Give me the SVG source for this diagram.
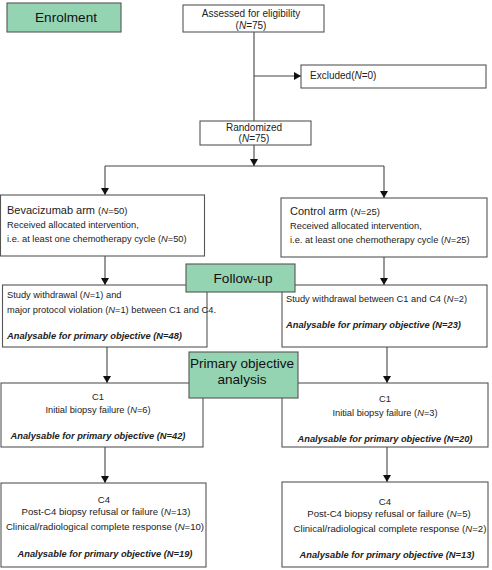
<svg xmlns="http://www.w3.org/2000/svg" width="492" height="570" viewBox="0 0 492 570">
<defs>
<style>
.box{fill:#fff;stroke:#555;stroke-width:1.1}
.grn{fill:#95d4b3;stroke:#555;stroke-width:1.1}
.ln{fill:none;stroke:#444;stroke-width:1.1}
text{font-family:"Liberation Sans",Arial,sans-serif;fill:#222}
.t{font-size:9.3px}
.h{font-size:11px}
.n{font-size:9.5px}
.top{font-size:10px}
.c4{font-size:9.6px}
.g{font-size:13.6px;fill:#111}
.b{font-size:9.3px;font-weight:bold;font-style:italic}
.m{text-anchor:middle}
</style>
<marker id="ah" markerUnits="userSpaceOnUse" markerWidth="8" markerHeight="8" refX="7" refY="4" orient="auto">
<path d="M0,0 L7,4 L0,8 z" fill="#111"/>
</marker>
</defs>
<rect width="492" height="570" fill="#fff"/>

<g id="connectors">
<line class="ln" x1="254" y1="32" x2="254" y2="121"/>
<line class="ln" x1="254" y1="76" x2="301" y2="76" marker-end="url(#ah)"/>
<line class="ln" x1="254" y1="145" x2="254" y2="166" marker-end="url(#ah)"/>
<line class="ln" x1="105" y1="166" x2="384" y2="166"/>
<line class="ln" x1="105" y1="166" x2="105" y2="195" marker-end="url(#ah)"/>
<line class="ln" x1="384" y1="166" x2="384" y2="198" marker-end="url(#ah)"/>
<line class="ln" x1="105" y1="256" x2="105" y2="285" marker-end="url(#ah)"/>
<line class="ln" x1="384" y1="257" x2="384" y2="285" marker-end="url(#ah)"/>
<line class="ln" x1="107" y1="347" x2="107" y2="383" marker-end="url(#ah)"/>
<line class="ln" x1="387" y1="347" x2="387" y2="383" marker-end="url(#ah)"/>
<line class="ln" x1="105" y1="447" x2="105" y2="483" marker-end="url(#ah)"/>
<line class="ln" x1="387" y1="447" x2="387" y2="482" marker-end="url(#ah)"/>
</g>

<g id="enrolment">
<rect class="grn" x="7" y="3" width="114" height="29"/>
<text class="g m" x="66" y="22">Enrolment</text>
</g>

<g id="assessed">
<rect class="box" x="183" y="5" width="141" height="27"/>
<text class="top m" x="251" y="17">Assessed for eligibility</text>
<text class="top m" x="251" y="29">(<tspan font-style="italic">N</tspan>=75)</text>
</g>

<g id="excluded">
<rect class="box" x="301" y="65" width="185" height="23"/>
<text class="top" x="310" y="79">Excluded(<tspan font-style="italic">N</tspan>=0)</text>
</g>

<g id="randomized">
<rect class="box" x="200" y="121" width="111" height="24"/>
<text class="top m" x="254" y="131">Randomized</text>
<text class="top m" x="254" y="142">(<tspan font-style="italic">N</tspan>=75)</text>
</g>

<g id="bevacizumab">
<rect class="box" x="0.5" y="195" width="204" height="61"/>
<text class="h" x="7" y="214">Bevacizumab arm <tspan class="n">(<tspan font-style="italic">N</tspan>=50)</tspan></text>
<text class="t" x="7" y="228">Received allocated intervention,</text>
<text class="t" x="7" y="242">i.e. at least one chemotherapy cycle (<tspan font-style="italic">N</tspan>=50)</text>
</g>

<g id="control">
<rect class="box" x="281" y="198" width="206" height="59"/>
<text class="h" x="290" y="215">Control arm <tspan class="n">(<tspan font-style="italic">N</tspan>=25)</tspan></text>
<text class="t" x="290" y="229">Received allocated intervention,</text>
<text class="t" x="290" y="243">i.e. at least one chemotherapy cycle (<tspan font-style="italic">N</tspan>=25)</text>
</g>

<g id="followup-left">
<rect class="box" x="2.5" y="285" width="204.5" height="62"/>
<text class="t" x="7" y="298">Study withdrawal (<tspan font-style="italic">N</tspan>=1) and</text>
<text class="t" x="7" y="313">major protocol violation (<tspan font-style="italic">N</tspan>=1) between C1 and C4.</text>
<text class="b" x="7" y="339">Analysable for primary objective (N=48)</text>
</g>

<g id="followup-right">
<rect class="box" x="282" y="285" width="205" height="62"/>
<text class="t" x="286" y="302">Study withdrawal between C1 and C4 (<tspan font-style="italic">N</tspan>=2)</text>
<text class="b" x="286" y="328">Analysable for primary objective (N=23)</text>
</g>

<g id="followup">
<rect class="grn" x="186" y="264" width="109" height="28"/>
<text class="g m" x="243" y="283">Follow-up</text>
</g>

<g id="c1-left">
<rect class="box" x="1" y="383" width="202" height="64"/>
<text class="t m" x="98" y="400">C1</text>
<text class="t m" x="98" y="413">Initial biopsy failure (<tspan font-style="italic">N</tspan>=6)</text>
<text class="b m" x="98" y="439">Analysable for primary objective (N=42)</text>
</g>

<g id="c1-right">
<rect class="box" x="282" y="383" width="206" height="64"/>
<text class="t m" x="385" y="402">C1</text>
<text class="t m" x="385" y="416">Initial biopsy failure (<tspan font-style="italic">N</tspan>=3)</text>
<text class="b m" x="385" y="442">Analysable for primary objective (N=20)</text>
</g>

<g id="primary">
<rect class="grn" x="189" y="352" width="109" height="46"/>
<text class="g m" x="242" y="368">Primary objective</text>
<text class="g m" x="242" y="384">analysis</text>
</g>

<g id="c4-left">
<rect class="box" x="1" y="483" width="205" height="84"/>
<text class="c4 m" x="104" y="503">C4</text>
<text class="c4 m" x="106" y="515">Post-C4 biopsy refusal or failure (<tspan font-style="italic">N</tspan>=13)</text>
<text class="c4 m" x="105" y="530">Clinical/radiological complete response (<tspan font-style="italic">N</tspan>=10)</text>
<text class="b m" x="105" y="557">Analysable for primary objective (N=19)</text>
</g>

<g id="c4-right">
<rect class="box" x="282" y="482" width="206" height="85"/>
<text class="c4 m" x="385" y="505">C4</text>
<text class="c4 m" x="389" y="517">Post-C4 biopsy refusal or failure (<tspan font-style="italic">N</tspan>=5)</text>
<text class="c4 m" x="390" y="532">Clinical/radiological complete response (<tspan font-style="italic">N</tspan>=2)</text>
<text class="b m" x="387" y="558">Analysable for primary objective (N=13)</text>
</g>
</svg>
